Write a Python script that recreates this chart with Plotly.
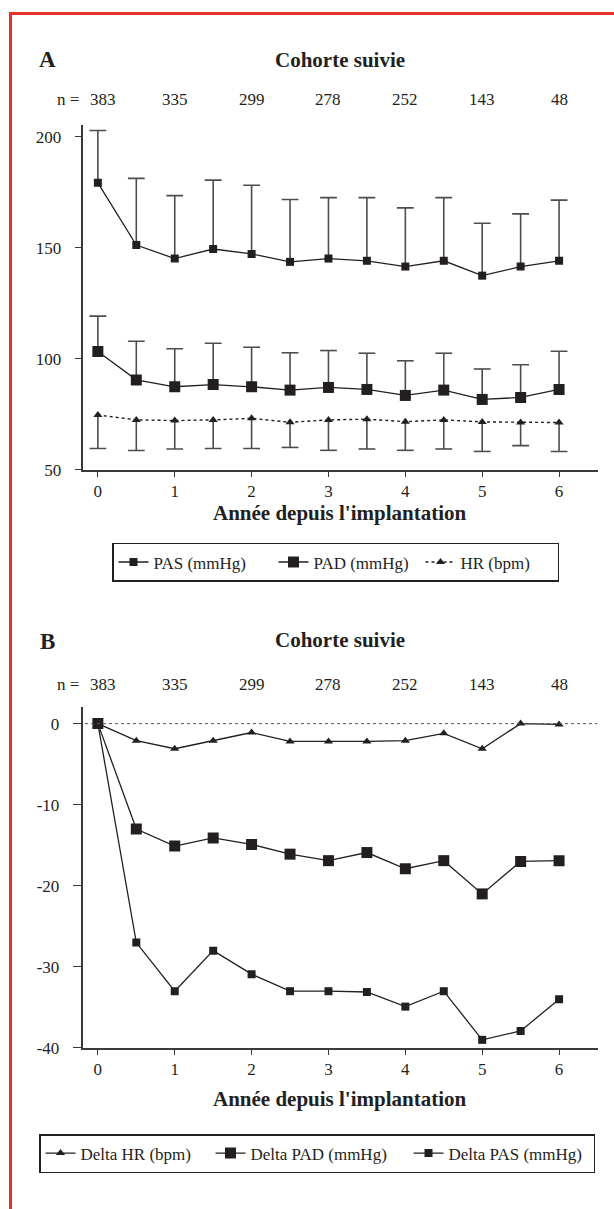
import plotly.graph_objects as go

# ---------------- data ----------------
years = [0, 0.5, 1, 1.5, 2, 2.5, 3, 3.5, 4, 4.5, 5, 5.5, 6]

pas_mean = [179.2, 151.2, 145.1, 149.4, 147.2, 143.6, 145.1, 144.1, 141.5, 144.1, 137.4, 141.5, 144.1]
pas_sd = [23.5, 30.0, 28.3, 31.0, 30.9, 28.1, 27.4, 28.4, 26.4, 28.4, 23.6, 23.7, 27.3]
pad_mean = [103.3, 90.5, 87.4, 88.4, 87.4, 85.9, 87.1, 86.2, 83.5, 85.9, 81.7, 82.6, 86.2]
pad_sd = [15.9, 17.4, 17.1, 18.6, 17.8, 16.8, 16.6, 16.3, 15.6, 16.6, 13.7, 14.7, 17.2]
hr_mean = [74.7, 72.5, 72.2, 72.5, 73.2, 71.4, 72.5, 72.8, 71.7, 72.5, 71.6, 71.3, 71.3]
hr_sd = [15.1, 13.8, 12.8, 12.9, 13.6, 11.3, 13.7, 13.4, 12.9, 13.1, 13.3, 10.4, 13.0]

d_hr = [0, -2.1, -3.1, -2.1, -1.1, -2.2, -2.2, -2.2, -2.1, -1.2, -3.1, 0, -0.1]
d_pad = [0, -13.0, -15.1, -14.1, -14.9, -16.1, -16.9, -15.9, -17.9, -16.9, -21.0, -17.0, -16.9]
d_pas = [0, -27.0, -33.0, -28.0, -30.9, -33.0, -33.0, -33.1, -34.9, -33.0, -39.0, -37.9, -34.0]

cohort_years = [0, 1, 2, 3, 4, 5, 6]
cohort_n = [383, 335, 299, 278, 252, 143, 48]

x_ticks = [0, 1, 2, 3, 4, 5, 6]
ya_ticks = [50, 100, 150, 200]
yb_ticks = [-40, -30, -20, -10, 0]
yb_labels = ["-40", "-30", "-20", "-10", "0"]

title_top = "Cohorte suivie"
x_title = "Année depuis l'implantation"

# ---------------- style ----------------
W, H = 614, 1209
FONT = "Liberation Serif"
INK = "#231f20"
BAR = "#4d4d4d"
AXC = "#3a3a3a"


def px(v):
    return v / W


def py(v):
    return 1 - v / H


XDOM = [px(82.5), px(597.5)]
YDOM_A = [py(473.8), py(126.5)]
YDOM_B = [py(1056.7), py(713.3)]

fig = go.Figure()

zeros = [0] * len(years)

# ---- Panel A ----
fig.add_trace(go.Scatter(
    x=years, y=pas_mean, name="PAS (mmHg)", mode="lines+markers",
    line=dict(color=INK, width=1.3),
    marker=dict(symbol="square", size=8, color=INK),
    error_y=dict(type="data", symmetric=False, array=pas_sd, arrayminus=zeros,
                 width=0, thickness=1.6, color=BAR),
    xaxis="x", yaxis="y", legend="legend", legendwidth=115))
fig.add_trace(go.Scatter(
    x=years, y=pad_mean, name="PAD (mmHg)", mode="lines+markers",
    line=dict(color=INK, width=1.3),
    marker=dict(symbol="square", size=11, color=INK),
    error_y=dict(type="data", symmetric=False, array=pad_sd, arrayminus=zeros,
                 width=0, thickness=1.6, color=BAR),
    xaxis="x", yaxis="y", legend="legend", legendwidth=102))
fig.add_trace(go.Scatter(
    x=years, y=hr_mean, name="HR (bpm)", mode="lines+markers",
    line=dict(color=INK, width=1.4, dash="dot"),
    marker=dict(symbol="triangle-up", size=8, color=INK),
    error_y=dict(type="data", symmetric=False, array=zeros, arrayminus=hr_sd,
                 width=0, thickness=1.6, color=BAR),
    xaxis="x", yaxis="y", legend="legend", legendwidth=92))

# caps of error bars
cap = dict(symbol="line-ew", size=12, line=dict(color=BAR, width=1.6))
fig.add_trace(go.Scatter(x=years, y=[m + s for m, s in zip(pas_mean, pas_sd)], mode="markers",
                         marker=cap, showlegend=False, hoverinfo="skip", xaxis="x", yaxis="y"))
fig.add_trace(go.Scatter(x=years, y=[m + s for m, s in zip(pad_mean, pad_sd)], mode="markers",
                         marker=cap, showlegend=False, hoverinfo="skip", xaxis="x", yaxis="y"))
fig.add_trace(go.Scatter(x=years, y=[m - s for m, s in zip(hr_mean, hr_sd)], mode="markers",
                         marker=cap, showlegend=False, hoverinfo="skip", xaxis="x", yaxis="y"))

# ---- Panel B ----
fig.add_trace(go.Scatter(
    x=years, y=d_hr, name="Delta HR (bpm)", mode="lines+markers",
    line=dict(color=INK, width=1.3),
    marker=dict(symbol="triangle-up", size=8, color=INK),
    xaxis="x2", yaxis="y2", legend="legend2", legendwidth=125))
fig.add_trace(go.Scatter(
    x=years, y=d_pad, name="Delta PAD (mmHg)", mode="lines+markers",
    line=dict(color=INK, width=1.3),
    marker=dict(symbol="square", size=11, color=INK),
    xaxis="x2", yaxis="y2", legend="legend2", legendwidth=153))
fig.add_trace(go.Scatter(
    x=years, y=d_pas, name="Delta PAS (mmHg)", mode="lines+markers",
    line=dict(color=INK, width=1.3),
    marker=dict(symbol="square", size=8, color=INK),
    xaxis="x2", yaxis="y2", legend="legend2", legendwidth=140))

tickfont = dict(family=FONT, size=17, color=INK)
common_x = dict(range=[-0.2, 6.5], tickvals=x_ticks, ticks="outside", ticklen=5,
                tickwidth=1.3, tickcolor=AXC, showline=True, linecolor=AXC, linewidth=1.5,
                showgrid=False, zeroline=False, tickfont=tickfont, domain=XDOM)
common_y = dict(ticks="outside", tickwidth=1.3, tickcolor=AXC, showline=True,
                linecolor=AXC, linewidth=1.5, showgrid=False, zeroline=False,
                tickfont=tickfont, ticklabelstandoff=10)

leg_common = dict(orientation="h", xanchor="left", yanchor="top",
                  bordercolor=INK, borderwidth=1.5, bgcolor="white", itemwidth=30,
                  entrywidthmode="pixels",
                  font=dict(family=FONT, size=17, color=INK))

fig.update_layout(
    width=W, height=H, margin=dict(l=0, r=0, t=0, b=0),
    paper_bgcolor="white", plot_bgcolor="white",
    font=dict(family=FONT, size=17, color=INK),
    xaxis=dict(**common_x, anchor="y"),
    yaxis=dict(**common_y, range=[50, 205], tickvals=ya_ticks, ticklen=6,
               domain=YDOM_A, anchor="x"),
    xaxis2=dict(**common_x, anchor="y2"),
    yaxis2=dict(**common_y, range=[-40, 2], tickvals=yb_ticks, ticktext=yb_labels,
                ticklen=8, domain=YDOM_B, anchor="x2"),
    legend=dict(**leg_common, x=px(112), y=py(547.5)),
    legend2=dict(**leg_common, x=px(39), y=py(1143.5)),
    showlegend=True,
)

# zero reference line in panel B
fig.add_shape(type="line", xref="x2 domain", yref="y2", x0=0.005, x1=1, y0=0, y1=0,
              line=dict(color="#555555", width=1, dash="dot"))

# red frame (open on right and bottom)
RED = "#e8312a"
fig.add_shape(type="line", xref="paper", yref="paper", x0=px(10.5), x1=1.01,
              y0=py(13.5), y1=py(13.5), line=dict(color=RED, width=3))
fig.add_shape(type="line", xref="paper", yref="paper", x0=px(10.5), x1=px(10.5),
              y0=py(12), y1=-0.01, line=dict(color=RED, width=3))

ann = []
for label, ycen in (("A", 60), ("B", 647)):
    ann.append(dict(text=f"<b>{label}</b>", xref="paper", yref="paper", x=px(47), y=py(ycen),
                    xanchor="center", yanchor="middle", showarrow=False,
                    font=dict(family=FONT, size=23, color=INK)))
for xr, ycen in (("x", 60), ("x2", 645)):
    ann.append(dict(text=f"<b>{title_top}</b>", xref=f"{xr} domain", yref="paper", x=0.5,
                    y=py(ycen), xanchor="center", yanchor="middle", showarrow=False,
                    font=dict(family=FONT, size=21, color=INK)))
for xr, ycen in (("x", 517), ("x2", 1108)):
    ann.append(dict(text=f"<b>{x_title}</b>", xref=f"{xr} domain", yref="paper", x=0.5,
                    y=py(ycen), xanchor="center", yanchor="middle", showarrow=False,
                    font=dict(family=FONT, size=21, color=INK)))
for xr, ycen in (("x", 100), ("x2", 690)):
    ann.append(dict(text="n =", xref="paper", yref="paper", x=px(81), y=py(ycen),
                    xanchor="right", yanchor="middle", showarrow=False,
                    font=dict(family=FONT, size=17, color=INK)))
    for cx, n in zip(cohort_years, cohort_n):
        ann.append(dict(text=str(n), xref=xr, yref="paper", x=cx, y=py(ycen),
                        xanchor="center", yanchor="middle", showarrow=False,
                        xshift=5 if cx == 0 else 0,
                        font=dict(family=FONT, size=17, color=INK)))
fig.update_layout(annotations=ann)

fig.write_html("out.html", config={"displayModeBar": False},
               post_script="document.body.style.margin='0';")
